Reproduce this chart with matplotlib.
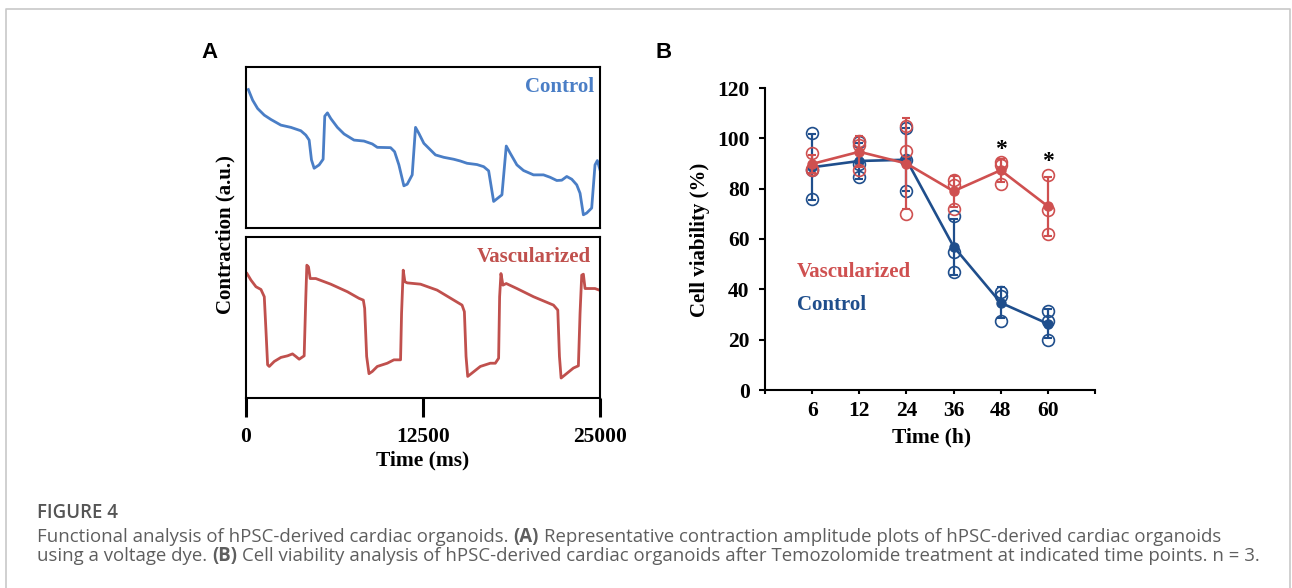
import matplotlib
matplotlib.use("Agg")
import matplotlib.pyplot as plt
import numpy as np
from matplotlib.lines import Line2D

# Panel A: contraction traces (time in ms, amplitude in a.u. 0-100)
ctrl_t = [164, 469, 822, 1291, 1761, 2465, 3169, 3873, 4225, 4460, 4624, 4812, 5164, 5446,
          5563, 5751, 5986, 6455, 6925, 7629, 8333, 8920, 9272, 10211, 10493, 10798, 11150,
          11385, 11737, 11972, 12206, 12559, 13380, 13967, 14671, 15141, 15610, 16314, 16784,
          17136, 17488, 18075, 18380, 18662, 19131, 19601, 20305, 21009, 21479, 21948, 22300,
          22652, 23005, 23357, 23591, 23826, 24061, 24413, 24648, 24812, 25000]
ctrl_v = [86.0, 79.4, 74.2, 70.1, 67.4, 63.9, 62.5, 60.4, 57.7, 54.6, 42.3, 37.1, 39.2, 42.7,
          69.5, 71.5, 68.0, 62.5, 58.4, 54.6, 54.0, 52.2, 50.1, 49.9, 47.4, 39.2, 26.2,
          27.2, 33.0, 62.5, 58.8, 52.6, 45.4, 43.9, 42.7, 41.6, 40.2, 39.4, 38.1,
          35.5, 16.5, 20.6, 50.9, 46.4, 39.2, 35.7, 33.0, 33.0, 31.5, 29.5, 29.7,
          32.0, 30.3, 26.8, 21.6, 8.2, 9.3, 12.4, 39.2, 41.9, 36.1]

vasc_t = [70, 352, 704, 1056, 1291, 1408, 1526, 1643, 1995, 2465, 2934, 3286, 3521, 3756, 4108,
          4225, 4296, 4413, 4530, 4930, 5986, 7160, 7981, 8286, 8380, 8521, 8685, 8920, 9272,
          9976, 10446, 10915, 10986, 11103, 11220, 11385, 12324, 13498, 14671, 15258, 15422,
          15540, 15657, 15962, 16549, 17253, 17606, 17840, 17911, 18005, 18146, 18380, 19131,
          20305, 21714, 22019, 22136, 22254, 22535, 23122, 23474, 23591, 23709, 23826, 23944,
          24296, 24648, 24953]
vasc_v = [77.3, 73.2, 69.1, 67.4, 62.9, 42.3, 20.6, 19.6, 22.7, 25.2, 26.2, 27.4, 25.8, 24.1, 26.2,
          62.9, 82.5, 81.4, 74.2, 74.2, 70.7, 66.0, 61.9, 60.8, 55.7, 25.8, 15.1, 16.5, 19.6,
          21.6, 23.7, 23.7, 52.6, 79.4, 72.2, 71.5, 70.7, 67.0, 60.8, 57.7, 53.6,
          25.8, 13.4, 15.5, 19.6, 21.6, 21.6, 24.7, 62.9, 77.3, 70.1, 71.1, 68.0,
          62.9, 57.7, 54.6, 25.8, 12.4, 14.4, 18.6, 20.0, 52.6, 76.3, 76.9, 68.0,
          68.0, 68.0, 67.0]
time_ticks = [0, 12500, 25000]

# Panel B: cell viability (%) replicates, n = 3
hours = ["6", "12", "24", "36", "48", "60"]
control_reps = [[102, 87.5, 76], [98.5, 90, 84.5], [104, 91.5, 79],
                [69, 55, 47], [39, 37.5, 27.5], [31.5, 27.5, 20]]
vasc_reps = [[94, 88, 87.5], [99, 97.5, 87.5], [105, 95, 70],
             [83.5, 81.5, 72], [90.5, 89.5, 82], [85.5, 71.5, 62]]
signif = ["", "", "", "", "*", "*"]
star_y = [0, 0, 0, 0, 97.6, 93.2]

W, H = 1292, 588
plt.rcParams["font.family"] = "Liberation Serif"
plt.rcParams["font.weight"] = "bold"
plt.rcParams["axes.labelweight"] = "bold"

fig = plt.figure(figsize=(W / 100, H / 100), dpi=100)


def px_box(x0, y0, x1, y1):
    return [x0 / W, 1 - y1 / H, (x1 - x0) / W, (y1 - y0) / H]


# light frame around the figure
fig.add_artist(Line2D([6 / W, 6 / W, 1290 / W, 1290 / W], [0, 1 - 9 / H, 1 - 9 / H, 0],
                      transform=fig.transFigure, color="#c8c8c8", lw=1.2))

blue_a = "#4a7ec6"
red_a = "#c0504d"
blue_b = "#1f4e8c"
red_b = "#cf5050"

# ---- Panel A ----
axA1 = fig.add_axes(px_box(246, 67, 600, 228))
axA1.plot(ctrl_t, ctrl_v, color=blue_a, lw=2.0)
axA1.text(0.983, 0.876, "Control", transform=axA1.transAxes, ha="right", va="center",
          color=blue_a, fontsize=15)

axA2 = fig.add_axes(px_box(246, 237, 600, 398))
axA2.plot(vasc_t, vasc_v, color=red_a, lw=2.0)
axA2.text(0.975, 0.876, "Vascularized", transform=axA2.transAxes, ha="right", va="center",
          color=red_a, fontsize=15)

for ax in (axA1, axA2):
    ax.set_xlim(0, 25000)
    ax.set_ylim(0, 100)
    ax.set_yticks([])
    for s in ax.spines.values():
        s.set_linewidth(1.5)
axA1.set_xticks([])
axA2.set_xticks(time_ticks)
axA2.set_xticklabels([str(t) for t in time_ticks])
axA2.tick_params(axis="x", length=14, width=2.2, pad=7, labelsize=15.5)

fig.text(423 / W, 1 - 460 / H, "Time (ms)", ha="center", va="center", fontsize=15.5)
fig.text(225 / W, 1 - 235 / H, "Contraction (a.u.)", ha="center", va="center",
         rotation=90, fontsize=15)
fig.text(210 / W, 1 - 53 / H, "A", ha="center", va="center", fontsize=16,
         family="Liberation Sans", fontweight="bold")
fig.text(664 / W, 1 - 53 / H, "B", ha="center", va="center", fontsize=16,
         family="Liberation Sans", fontweight="bold")

# ---- Panel B ----
axB = fig.add_axes(px_box(765, 88, 1095, 390))
xpos = np.arange(1, len(hours) + 1)
for reps, col, z in ((control_reps, blue_b, 2), (vasc_reps, red_b, 3)):
    arr = np.array(reps)
    mean = arr.mean(axis=1)
    sd = arr.std(axis=1, ddof=1)
    axB.errorbar(xpos, mean, yerr=sd, color=col, lw=1.9, marker="o", ms=6.5,
                 elinewidth=1.6, capsize=3, capthick=1.5, zorder=z)
    for j in range(arr.shape[1]):
        axB.plot(xpos, arr[:, j], "o", mfc="none", mec=col, ms=8.5, mew=1.2, zorder=z)

# Times asterisk sits high in its box, so nudge it down a little
for x, s, y in zip(xpos, signif, star_y):
    if s:
        axB.annotate(s, (x, y), xytext=(0, -4), textcoords="offset points",
                     ha="center", va="center", fontsize=17, color="black")

axB.text(0.68, 47, "Vascularized", color=red_b, fontsize=15, ha="left", va="center")
axB.text(0.68, 33.8, "Control", color=blue_b, fontsize=15, ha="left", va="center")

axB.set_xlim(0, 7)
axB.set_ylim(0, 120)
axB.set_yticks(range(0, 121, 20))
axB.set_xticks(range(0, 8))
axB.set_xticklabels([""] + hours + [""])
axB.spines["top"].set_visible(False)
axB.spines["right"].set_visible(False)
axB.spines["left"].set_linewidth(1.5)
axB.spines["bottom"].set_linewidth(1.5)
axB.tick_params(axis="y", length=4, width=1.5, pad=7, labelsize=15.5)
axB.tick_params(axis="x", length=3, width=1.5, pad=5, labelsize=15.5)

fig.text(700 / W, 1 - 240 / H, "Cell viability (%)", ha="center", va="center",
         rotation=90, fontsize=15)
fig.text(932 / W, 1 - 437 / H, "Time (h)", ha="center", va="center", fontsize=15.5)

# ---- Caption ----
cap_font = "Open Sans"
cap_color = "#5e5e5e"
renderer = fig.canvas.get_renderer()


def text_w(s, size, weight):
    t = fig.text(0, 0, s, fontsize=size, fontweight=weight, family=cap_font)
    w = t.get_window_extent(renderer).width
    t.remove()
    return w


def space_w(size):
    return text_w("a a", size, "normal") - text_w("aa", size, "normal")


def line_width(segs, size):
    return sum(text_w(s, size, w) for s, w in segs) + space_w(size) * (len(segs) - 1)


def draw_line(x0, y, segs, size):
    x = x0
    sp = space_w(size)
    for s, w in segs:
        fig.text(x / W, 1 - y / H, s, fontsize=size, fontweight=w, family=cap_font,
                 color=cap_color, ha="left", va="center")
        x += text_w(s, size, w) + sp


line1 = [("Functional analysis of hPSC-derived cardiac organoids.", "normal"), ("(A)", "bold"),
         ("Representative contraction amplitude plots of hPSC-derived cardiac organoids", "normal")]
line2 = [("using a voltage dye.", "normal"), ("(B)", "bold"),
         ("Cell viability analysis of hPSC-derived cardiac organoids after Temozolomide "
          "treatment at indicated time points. n = 3.", "normal")]

cap_x0 = 37
cap_size = 12 * (1253 - cap_x0) / line_width(line2, 12)
fig.text(cap_x0 / W, 1 - 513 / H, "FIGURE 4", fontsize=cap_size, fontweight="semibold",
         family=cap_font, color="#555555", ha="left", va="center")
draw_line(cap_x0, 537, line1, cap_size)
draw_line(cap_x0, 556, line2, cap_size)

fig.savefig("out.png", dpi=100)
